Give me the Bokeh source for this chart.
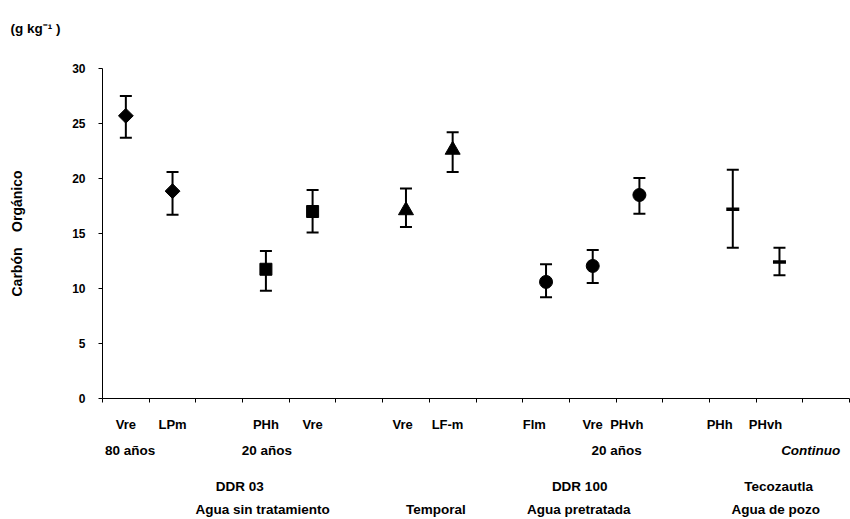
import math
from bokeh.plotting import figure
from bokeh.models import ColumnDataSource, Whisker, TeeHead, FixedTicker, LinearAxis, Range1d
from bokeh.embed import file_html
from bokeh.resources import INLINE

# ---- data ----
slots = ["Vre", "LPm", "", "PHh", "Vre", "", "Vre", "LF-m", "", "Flm", "Vre", "PHvh", "", "PHh", "PHvh", ""]
point_slots = [0, 1, 3, 4, 6, 7, 9, 10, 11, 13, 14]
means = [25.7, 18.85, 11.75, 17.0, 17.1, 22.6, 10.6, 12.05, 18.5, 17.2, 12.4]
upper = [27.5, 20.6, 13.4, 18.95, 19.1, 24.2, 12.2, 13.5, 20.05, 20.8, 13.7]
lower = [23.7, 16.7, 9.8, 15.1, 15.6, 20.6, 9.2, 10.5, 16.8, 13.7, 11.2]
markers = ["diamond", "diamond", "square", "square", "triangle", "triangle",
           "circle", "circle", "circle", "dash", "dash"]
y_ticks = [0, 5, 10, 15, 20, 25, 30]
age_labels = ["80 años", "20 años", "20 años"]
age_anchor = [0.59, 3.52, 11.01]
cont_label = ["Continuo"]
cont_anchor = [15.17]
site_labels = ["DDR 03", "DDR 100", "Tecozautla"]
site_anchor = [2.94, 10.22, 14.48]
water_labels = ["Agua sin tratamiento", "Temporal", "Agua pretratada", "Agua de pozo"]
water_anchor = [3.43, 7.14, 10.2, 14.42]
unit_text = "(g kg\u207b\u00b9 )"

FONT = "Liberation Sans"

p = figure(width=850, height=519, output_backend="svg", toolbar_location=None,
           x_range=Range1d(0, len(slots)), y_range=Range1d(0, 30),
           min_border_left=102, min_border_right=1, min_border_top=68, min_border_bottom=2)
p.outline_line_color = None
p.xgrid.visible = False
p.ygrid.visible = False
p.background_fill_color = "white"
p.border_fill_color = "white"

# title (units) top-left; a blank second line lifts it away from the frame
p.title.text = unit_text + "\n\u00a0"
p.title.align = "left"
p.title.offset = -92
p.title.standoff = 36
p.title.text_font = FONT
p.title.text_font_style = "bold"
p.title.text_font_size = "13.5px"
p.title.text_color = "black"

# y axis
p.yaxis.ticker = FixedTicker(ticks=y_ticks)
p.yaxis.minor_tick_line_color = None
p.yaxis.major_tick_out = 4
p.yaxis.major_tick_in = 0
p.yaxis.axis_line_color = "black"
p.yaxis.major_tick_line_color = "black"
p.yaxis.major_label_text_font = FONT
p.yaxis.major_label_text_font_style = "bold"
p.yaxis.major_label_text_font_size = "12px"
p.yaxis.major_label_text_color = "black"
p.yaxis.major_label_standoff = 13
p.yaxis.axis_label = "Carbón\u00a0\u00a0\u00a0\u00a0Orgánico"
p.yaxis.axis_label_text_font = FONT
p.yaxis.axis_label_text_font_style = "bold"
p.yaxis.axis_label_text_font_size = "14px"
p.yaxis.axis_label_text_color = "black"
p.yaxis.axis_label_standoff = 44

# x axis: minor ticks mark category boundaries, major (invisible) ticks carry labels
label_nudge = {6: -0.07, 7: -0.11, 9: -0.25, 11: -0.27, 13: -0.28, 14: -0.3}
lab_pos, lab_over = [], {}
for i, name in enumerate(slots):
    if name:
        pos = round(i + 0.5 + label_nudge.get(i, 0), 3)
        lab_pos.append(pos)
        lab_over[pos] = name
xa = p.xaxis[0]
xa.ticker = FixedTicker(ticks=lab_pos, minor_ticks=list(range(len(slots) + 1)))
xa.major_label_overrides = lab_over
xa.major_tick_line_color = None
xa.major_tick_out = 0
xa.major_tick_in = 0
xa.minor_tick_line_color = "black"
xa.minor_tick_out = 4
xa.minor_tick_in = 0
xa.axis_line_color = "black"
xa.major_label_text_font = FONT
xa.major_label_text_font_style = "bold"
xa.major_label_text_font_size = "13px"
xa.major_label_text_color = "black"
xa.major_label_standoff = 14


def label_row(texts, anchors, standoff, style="bold", size="13.5px"):
    ax = LinearAxis(ticker=FixedTicker(ticks=anchors, minor_ticks=[]),
                    major_label_overrides={a: t for a, t in zip(anchors, texts)})
    ax.axis_line_color = None
    ax.major_tick_line_color = None
    ax.minor_tick_line_color = None
    ax.major_tick_out = 0
    ax.major_tick_in = 0
    ax.major_label_text_font = FONT
    ax.major_label_text_font_style = style
    ax.major_label_text_font_size = size
    ax.major_label_text_color = "black"
    ax.major_label_standoff = standoff
    p.add_layout(ax, "below")


label_row(age_labels, age_anchor, 8)
label_row(cont_label, cont_anchor, -18, style="bold italic")
label_row(site_labels, site_anchor, 18)
label_row(water_labels, water_anchor, 5)

xs = [s + 0.5 for s in point_slots]
src = ColumnDataSource(dict(x=xs, y=means, upper=upper, lower=lower))
wh = Whisker(source=src, base="x", upper="upper", lower="lower",
             line_width=2, line_color="black",
             upper_head=TeeHead(size=12, line_width=2, line_color="black"),
             lower_head=TeeHead(size=12, line_width=2, line_color="black"))
p.add_layout(wh)

style = {
    "diamond": dict(marker="square", size=10.5, angle=math.pi / 4),
    "square": dict(marker="square", size=12, angle=0),
    "triangle": dict(marker="triangle", size=15, angle=0),
    "circle": dict(marker="circle", size=13, angle=0),
    "dash": dict(marker="dash", size=13, angle=0),
}
for m in ["diamond", "square", "triangle", "circle", "dash"]:
    idx = [i for i, mm in enumerate(markers) if mm == m]
    st = style[m]
    p.scatter([xs[i] for i in idx], [means[i] for i in idx], marker=st["marker"],
              size=st["size"], angle=st["angle"], fill_color="black", line_color="black",
              line_width=3.5 if m == "dash" else 1)

open("out.html", "w").write(file_html(p, INLINE))
